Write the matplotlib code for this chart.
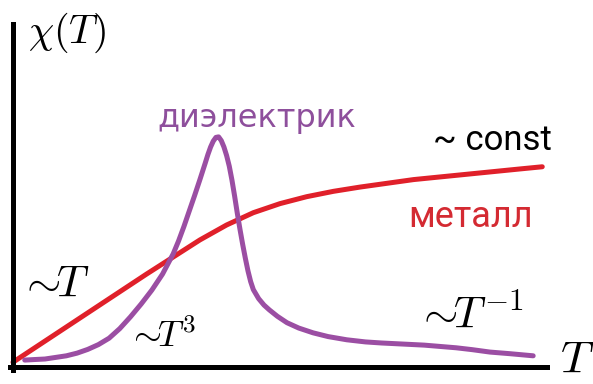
import matplotlib
matplotlib.use('Agg')
from matplotlib import pyplot as plt

plt.rcParams['mathtext.fontset'] = 'cm'

# metal: linear at low T, saturating to a constant
metal_T = [0.0, 0.5, 1.0, 1.5, 2.0, 2.5, 3.0, 3.5, 4.0, 4.5, 5.0, 5.5, 6.0, 6.5, 7.0, 7.5,
           8.0, 8.5, 9.0, 9.5, 9.91]
metal_chi = [0.09, 0.42, 0.75, 1.08, 1.41, 1.74, 2.06, 2.38, 2.66, 2.89, 3.06, 3.19, 3.29, 3.37,
             3.44, 3.51, 3.56, 3.61, 3.66, 3.71, 3.75]

# dielectric: ~T^3 rise, sharp peak, ~1/T tail
diel_T = [0.22, 0.4, 0.6, 0.8, 1.0, 1.2, 1.4, 1.6, 1.8, 2.0, 2.2, 2.4, 2.6, 2.8, 3.0, 3.1,
          3.2, 3.3, 3.4, 3.5, 3.6, 3.65, 3.7, 3.75, 3.8, 3.85, 3.9, 3.95, 4.0, 4.05, 4.1,
          4.15, 4.2, 4.25, 4.3, 4.35, 4.4, 4.45, 4.5, 4.6, 4.7, 4.8, 4.95, 5.13, 5.35, 5.62,
          5.9, 6.25, 6.6, 6.9, 7.3, 7.7, 8.0, 8.3, 8.6, 8.93, 9.3, 9.74]
diel_chi = [0.13, 0.14, 0.15, 0.18, 0.21, 0.26, 0.33, 0.42, 0.54, 0.72, 0.94, 1.18, 1.44, 1.74,
            2.12, 2.36, 2.63, 2.92, 3.21, 3.51, 3.82, 3.98, 4.12, 4.23, 4.30, 4.31, 4.24, 4.12,
            3.96, 3.76, 3.50, 3.20, 2.88, 2.58, 2.30, 2.04, 1.80, 1.60, 1.45, 1.28, 1.16, 1.07,
            0.95, 0.83, 0.73, 0.64, 0.57, 0.51, 0.47, 0.45, 0.43, 0.41, 0.385, 0.36, 0.325,
            0.28, 0.25, 0.21]

red = '#e0202a'
purple = '#9b4ea3'

fig = plt.figure(figsize=(5.93, 3.84), dpi=100)
ax = fig.add_axes([0, 0, 1, 1])
ax.set_xlim(-0.243, 10.86)
ax.set_ylim(-0.318, 6.873)

# axes drawn as two thick black strokes meeting at the origin
for side in ['top', 'right']:
    ax.spines[side].set_visible(False)
for side in ['left', 'bottom']:
    ax.spines[side].set_position(('data', 0))
    ax.spines[side].set_linewidth(3.6)
    ax.spines[side].set_color('black')
ax.spines['left'].set_bounds(-0.047, 6.42)
ax.spines['bottom'].set_bounds(-0.047, 10.0)
ax.set_xticks([])
ax.set_yticks([])
ax.patch.set_visible(False)

ax.plot(metal_T, metal_chi, color=red, lw=3.6, solid_capstyle='round', solid_joinstyle='round')
ax.plot(diel_T, diel_chi, color=purple, lw=3.6, solid_capstyle='round', solid_joinstyle='round')

ax.text(0.28, 6.07, r'$\chi(T)$', fontsize=29, ha='left', va='baseline')
ax.text(10.24, -0.30, r'$T$', fontsize=33, ha='left', va='bottom')

ax.text(0.11, 1.31, r'$\sim\!\!T$', fontsize=32, ha='left', va='baseline')
ax.text(2.13, 0.37, r'$\sim\!\!T^3$', fontsize=26, ha='left', va='baseline')
ax.text(7.55, 0.73, r'$\sim\!\!T^{-1}$', fontsize=32, ha='left', va='baseline')

ax.text(10.09, 4.07, '~ const', fontsize=25, ha='right', va='baseline',
        family=['Roboto', 'DejaVu Sans'], color='black')
ax.text(9.74, 2.62, 'металл', fontsize=26, ha='right', va='baseline',
        family=['Roboto', 'DejaVu Sans'], color='#d42a32')
ax.text(4.57, 4.49, 'диэлектрик', fontsize=23, ha='center', va='baseline',
        family=['DejaVu Sans'], color='#8e4f9c')

fig.savefig('out.png', dpi=100)
